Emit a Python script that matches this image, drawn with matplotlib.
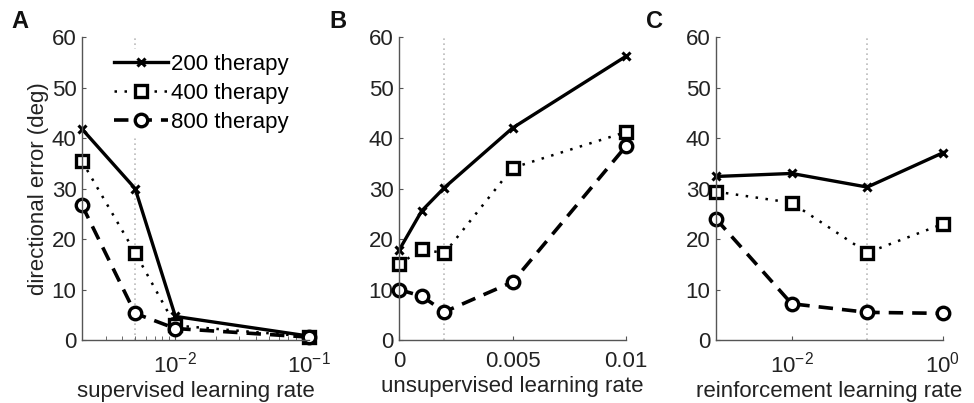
import matplotlib
matplotlib.use('Agg')
import math
import matplotlib.pyplot as plt
from matplotlib.ticker import FixedLocator, LogLocator, NullFormatter, NullLocator, FuncFormatter

plt.rcParams['font.family'] = ['Liberation Sans', 'DejaVu Sans']
plt.rcParams['mathtext.fontset'] = 'custom'
plt.rcParams['mathtext.rm'] = 'Liberation Sans'
plt.rcParams['mathtext.it'] = 'Liberation Sans:italic'

# ---- data ----
series_labels = ['200 therapy', '400 therapy', '800 therapy']

sup_rate = [0.002, 0.005, 0.01, 0.1]
sup_200 = [41.8, 30.0, 4.7, 0.8]
sup_400 = [35.4, 17.3, 2.9, 0.7]
sup_800 = [26.7, 5.3, 2.3, 0.6]

unsup_rate = [0.0, 0.001, 0.002, 0.005, 0.01]
unsup_200 = [17.8, 25.6, 30.2, 42.0, 56.2]
unsup_400 = [15.0, 18.0, 17.2, 34.1, 41.2]
unsup_800 = [10.0, 8.7, 5.6, 11.5, 38.4]

reinf_rate = [0.001, 0.01, 0.1, 1.0]
reinf_200 = [32.4, 33.0, 30.3, 37.1]
reinf_400 = [29.4, 27.2, 17.3, 23.0]
reinf_800 = [24.0, 7.2, 5.5, 5.3]

chosen_rate = [0.005, 0.002, 0.1]

fig = plt.figure(figsize=(9.74, 4.03), dpi=100)

styles = [
    dict(color='black', ls='-', lw=2.4, marker='x', ms=6, mew=2.2),
    dict(color='black', ls=(0, (1, 3)), lw=1.8, marker='s', ms=8, mew=2.4, mfc='white'),
    dict(color='black', ls=(0, (4, 2.5)), lw=2.6, marker='o', ms=9, mew=2.4, mfc='white'),
]

def log_fmt(v, pos):
    e = int(round(math.log10(v)))
    return r'$10^{%d}$' % e

panels = [
    (0.0842, sup_rate, [sup_200, sup_400, sup_800], 'supervised learning rate', 'log', (0.002, 0.1), 'A'),
    (0.4097, unsup_rate, [unsup_200, unsup_400, unsup_800], 'unsupervised learning rate', 'linear', (0, 0.01), 'B'),
    (0.7351, reinf_rate, [reinf_200, reinf_400, reinf_800], 'reinforcement learning rate', 'log', (0.001, 1.0), 'C'),
]

axes = []
for i, (left, xs, ys, xlabel, scale, xlim, letter) in enumerate(panels):
    ax = fig.add_axes([left, 0.156, 0.233, 0.752])
    ax.set_xscale(scale)
    ax.axvline(chosen_rate[i], color='#bbbbbb', ls=(0, (1, 2)), lw=1.2, zorder=0)
    for y, st, lab in zip(ys, styles, series_labels):
        ax.plot(xs, y, label=lab, clip_on=False, **st)
    ax.set_xlim(*xlim)
    ax.set_ylim(0, 60)
    ax.set_yticks([0, 10, 20, 30, 40, 50, 60])
    if scale == 'log':
        if letter == 'A':
            ax.xaxis.set_major_locator(FixedLocator([0.01, 0.1]))
            ax.xaxis.set_minor_locator(LogLocator(base=10, subs=range(2, 10)))
        else:
            ax.xaxis.set_major_locator(FixedLocator([0.01, 1.0]))
            ax.xaxis.set_minor_locator(NullLocator())
        ax.xaxis.set_major_formatter(FuncFormatter(log_fmt))
        ax.xaxis.set_minor_formatter(NullFormatter())
    else:
        ax.set_xticks([0, 0.005, 0.01])
        ax.set_xticklabels(['0', '0.005', '0.01'])
    for s in ['top', 'right']:
        ax.spines[s].set_visible(False)
    for s in ['left', 'bottom']:
        ax.spines[s].set_color('#555555')
        ax.spines[s].set_linewidth(1.0)
    ax.tick_params(direction='in', which='both', colors='#555555', labelcolor='#222222',
                   labelsize=16, length=3)
    ax.tick_params(axis='y', pad=4)
    ax.tick_params(axis='x', pad=8)
    ax.set_xlabel(xlabel, fontsize=16, color='#222222', labelpad=3)
    fig.text(left - 0.072, 0.93, letter, fontsize=17, fontweight='bold', color='#111111')
    axes.append(ax)

axes[0].set_ylabel('directional error (deg)', fontsize=16, color='#222222', labelpad=2)
leg = axes[0].legend(loc='upper right', bbox_to_anchor=(0.93, 0.96), fontsize=16,
                     frameon=True, framealpha=1.0, edgecolor='white', facecolor='white',
                     handlelength=2.4, handletextpad=0.15, borderpad=0.2, labelspacing=0.36,
                     borderaxespad=0.0)

plt.savefig('out.png', dpi=100, facecolor='white')
plt.close()
